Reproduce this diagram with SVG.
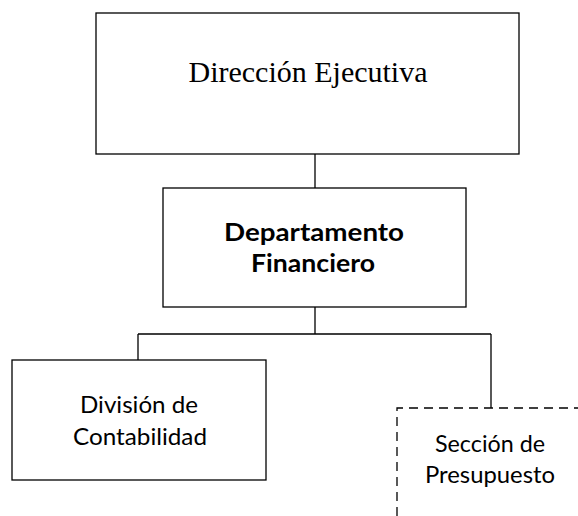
<svg xmlns="http://www.w3.org/2000/svg" width="578" height="516" viewBox="0 0 578 516">
<style>
.box{fill:#fff;stroke:#000;stroke-width:1.3}
.dash{fill:none;stroke:#000;stroke-width:1.3;stroke-dasharray:9 6}
.ln{fill:none;stroke:#000;stroke-width:1.3}
.serif{font-family:"Liberation Serif","Times New Roman",serif;font-size:30px;fill:#000}
.bold{font-family:Lato,"Liberation Sans",sans-serif;font-size:24px;font-weight:bold;fill:#000}
.reg{font-family:Lato,"Liberation Sans",sans-serif;font-size:24px;fill:#000}
</style>
<g id="connectors">
<path class="ln" d="M315 154 V188"/>
<path class="ln" d="M315 307 V334 M138 334 H491 M138 334 V360 M491 334 V408"/>
</g>
<g id="direccion">
<rect class="box" x="96" y="13" width="423" height="141"/>
<text class="serif" x="308" y="82" text-anchor="middle">Dirección Ejecutiva</text>
</g>
<g id="departamento">
<rect class="box" x="163" y="188" width="303" height="119"/>
<text class="bold" x="314" y="241" text-anchor="middle" textLength="180" lengthAdjust="spacingAndGlyphs">Departamento</text>
<text class="bold" x="313" y="272" text-anchor="middle" textLength="124" lengthAdjust="spacingAndGlyphs">Financiero</text>
</g>
<g id="contabilidad">
<rect class="box" x="12" y="360" width="254" height="120"/>
<text class="reg" x="139" y="413" text-anchor="middle" textLength="118" lengthAdjust="spacingAndGlyphs">División de</text>
<text class="reg" x="140" y="445" text-anchor="middle" textLength="134" lengthAdjust="spacingAndGlyphs">Contabilidad</text>
</g>
<g id="presupuesto">
<path class="dash" d="M397 516 V408 H578"/>
<text class="reg" x="490" y="452" text-anchor="middle" textLength="110" lengthAdjust="spacingAndGlyphs">Sección de</text>
<text class="reg" x="490" y="483" text-anchor="middle" textLength="130" lengthAdjust="spacingAndGlyphs">Presupuesto</text>
</g>
</svg>
